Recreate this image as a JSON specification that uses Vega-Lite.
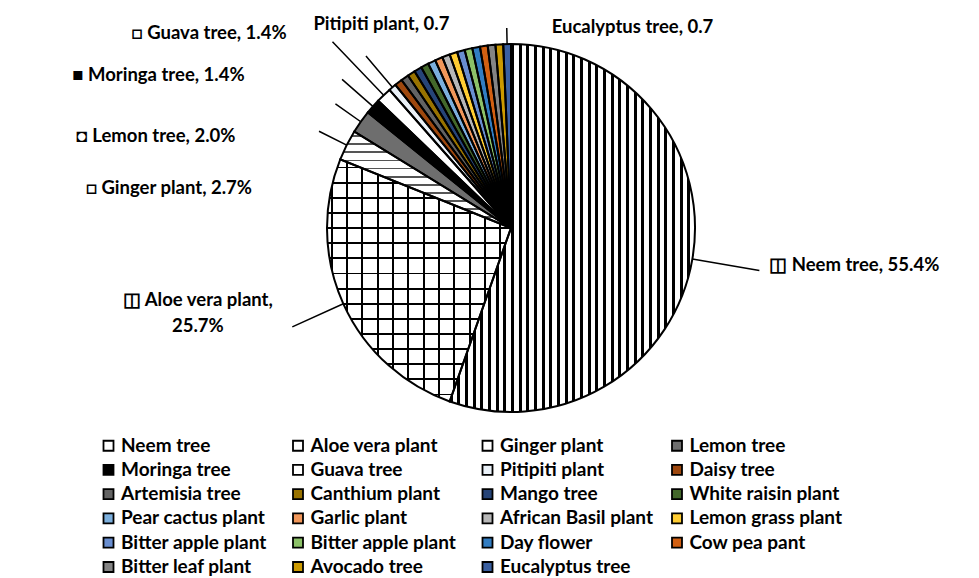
{
  "$schema": "https://vega.github.io/schema/vega-lite/v6.json",
  "autosize": {"type": "none"},
  "width": 1012,
  "height": 444,
  "padding": {"left": 5, "top": 6, "right": 0, "bottom": 140},
  "background": "white",
  "config": {"view": {"stroke": null}, "font": "Lato"},
  "resolve": {"scale": {"theta": "independent"}},
  "data": {
    "values": [
      {"idx": 1, "plant": "Neem tree", "count": 82, "label": "◫ Neem tree, 55.4%"},
      {"idx": 2, "plant": "Aloe vera plant", "count": 38, "label": "◫ Aloe vera plant,\n25.7%"},
      {"idx": 3, "plant": "Ginger plant", "count": 4, "label": "□ Ginger plant, 2.7%"},
      {"idx": 4, "plant": "Lemon tree", "count": 3, "label": "◘ Lemon tree, 2.0%"},
      {"idx": 5, "plant": "Moringa tree", "count": 2, "label": "■ Moringa tree, 1.4%"},
      {"idx": 6, "plant": "Guava tree", "count": 2, "label": "□ Guava tree, 1.4%"},
      {"idx": 7, "plant": "Pitipiti plant", "count": 1, "label": "Pitipiti plant, 0.7"},
      {"idx": 8, "plant": "Daisy tree", "count": 1, "label": ""},
      {"idx": 9, "plant": "Artemisia tree", "count": 1, "label": ""},
      {"idx": 10, "plant": "Canthium plant", "count": 1, "label": ""},
      {"idx": 11, "plant": "Mango tree", "count": 1, "label": ""},
      {"idx": 12, "plant": "White raisin plant", "count": 1, "label": ""},
      {"idx": 13, "plant": "Pear cactus plant", "count": 1, "label": ""},
      {"idx": 14, "plant": "Garlic plant", "count": 1, "label": ""},
      {"idx": 15, "plant": "African Basil plant", "count": 1, "label": ""},
      {"idx": 16, "plant": "Lemon grass plant", "count": 1, "label": ""},
      {"idx": 17, "plant": "Bitter apple plant", "count": 1, "label": ""},
      {"idx": 18, "plant": "Bitter apple plant\u200b", "count": 1, "label": ""},
      {"idx": 19, "plant": "Day flower", "count": 1, "label": ""},
      {"idx": 20, "plant": "Cow pea pant", "count": 1, "label": ""},
      {"idx": 21, "plant": "Bitter leaf plant", "count": 1, "label": ""},
      {"idx": 22, "plant": "Avocado tree", "count": 1, "label": ""},
      {"idx": 23, "plant": "Eucalyptus tree", "count": 1, "label": "Eucalyptus tree, 0.7"}
    ]
  },
  "layer": [
    {
      "mark": {"type": "arc", "radius": 184, "strokeWidth": 0},
      "encoding": {
        "theta": {"field": "count", "type": "quantitative", "stack": true},
        "order": {"field": "idx", "type": "quantitative"},
        "color": {
          "field": "plant", "type": "nominal",
          "scale": {
            "domain": ["Neem tree", "Moringa tree", "Artemisia tree", "Pear cactus plant", "Bitter apple plant", "Bitter leaf plant", "Aloe vera plant", "Guava tree", "Canthium plant", "Garlic plant", "Bitter apple plant\u200b", "Avocado tree", "Ginger plant", "Pitipiti plant", "Mango tree", "African Basil plant", "Day flower", "Eucalyptus tree", "Lemon tree", "Daisy tree", "White raisin plant", "Lemon grass plant", "Cow pea pant"],
            "range": ["#ffffff", "#000000", "#636363", "#7CAFDD", "#698ED0", "#848484", "#ffffff", "#ffffff", "#997300", "#F1975A", "#8CC168", "#CC9A00", "#ffffff", "#eaf1f8", "#264478", "#B7B7B7", "#327DC2", "#3A5FA0", "#6e6e6e", "#9E480E", "#43682B", "#FFCD33", "#D26012"]
          },
          "legend": {
            "orient": "none", "legendX": 94, "legendY": 430, "columns": 4, "title": null,
            "padding": 0, "symbolType": "square", "symbolSize": 100, "gridAlign": "all",
            "symbolStrokeColor": "black", "symbolStrokeWidth": 1.8,
            "labelFont": "Lato", "labelFontSize": 19, "labelFontWeight": "bold", "labelColor": "black",
            "labelLimit": 300, "labelOffset": 3, "rowPadding": 4.3, "columnPadding": 14.5
          }
        }
      }
    },
    {
      "mark": {"type": "arc", "radius": 184, "strokeWidth": 0},
      "encoding": {
        "theta": {"field": "count", "type": "quantitative", "stack": true},
        "order": {"field": "idx", "type": "quantitative"},
        "detail": {"field": "plant", "type": "nominal"},
        "fill": {
          "condition": {
            "test": "datum.plant === 'Neem tree'",
            "value": {
              "gradient": "linear", "x1": 0, "y1": 0, "x2": 1, "y2": 0,
              "stops": [
                {"offset": 0, "color": "#000"}, {"offset": 0.0125, "color": "#000"}, {"offset": 0.0125, "color": "#fff"}, {"offset": 0.03125, "color": "#fff"},
                {"offset": 0.03125, "color": "#000"}, {"offset": 0.04375, "color": "#000"}, {"offset": 0.04375, "color": "#fff"}, {"offset": 0.0625, "color": "#fff"},
                {"offset": 0.0625, "color": "#000"}, {"offset": 0.075, "color": "#000"}, {"offset": 0.075, "color": "#fff"}, {"offset": 0.09375, "color": "#fff"},
                {"offset": 0.09375, "color": "#000"}, {"offset": 0.10625, "color": "#000"}, {"offset": 0.10625, "color": "#fff"}, {"offset": 0.125, "color": "#fff"},
                {"offset": 0.125, "color": "#000"}, {"offset": 0.1375, "color": "#000"}, {"offset": 0.1375, "color": "#fff"}, {"offset": 0.15625, "color": "#fff"},
                {"offset": 0.15625, "color": "#000"}, {"offset": 0.16875, "color": "#000"}, {"offset": 0.16875, "color": "#fff"}, {"offset": 0.1875, "color": "#fff"},
                {"offset": 0.1875, "color": "#000"}, {"offset": 0.2, "color": "#000"}, {"offset": 0.2, "color": "#fff"}, {"offset": 0.21875, "color": "#fff"},
                {"offset": 0.21875, "color": "#000"}, {"offset": 0.23125, "color": "#000"}, {"offset": 0.23125, "color": "#fff"}, {"offset": 0.25, "color": "#fff"},
                {"offset": 0.25, "color": "#000"}, {"offset": 0.2625, "color": "#000"}, {"offset": 0.2625, "color": "#fff"}, {"offset": 0.28125, "color": "#fff"},
                {"offset": 0.28125, "color": "#000"}, {"offset": 0.29375, "color": "#000"}, {"offset": 0.29375, "color": "#fff"}, {"offset": 0.3125, "color": "#fff"},
                {"offset": 0.3125, "color": "#000"}, {"offset": 0.325, "color": "#000"}, {"offset": 0.325, "color": "#fff"}, {"offset": 0.34375, "color": "#fff"},
                {"offset": 0.34375, "color": "#000"}, {"offset": 0.35625, "color": "#000"}, {"offset": 0.35625, "color": "#fff"}, {"offset": 0.375, "color": "#fff"},
                {"offset": 0.375, "color": "#000"}, {"offset": 0.3875, "color": "#000"}, {"offset": 0.3875, "color": "#fff"}, {"offset": 0.40625, "color": "#fff"},
                {"offset": 0.40625, "color": "#000"}, {"offset": 0.41875, "color": "#000"}, {"offset": 0.41875, "color": "#fff"}, {"offset": 0.4375, "color": "#fff"},
                {"offset": 0.4375, "color": "#000"}, {"offset": 0.45, "color": "#000"}, {"offset": 0.45, "color": "#fff"}, {"offset": 0.46875, "color": "#fff"},
                {"offset": 0.46875, "color": "#000"}, {"offset": 0.48125, "color": "#000"}, {"offset": 0.48125, "color": "#fff"}, {"offset": 0.5, "color": "#fff"},
                {"offset": 0.5, "color": "#000"}, {"offset": 0.5125, "color": "#000"}, {"offset": 0.5125, "color": "#fff"}, {"offset": 0.53125, "color": "#fff"},
                {"offset": 0.53125, "color": "#000"}, {"offset": 0.54375, "color": "#000"}, {"offset": 0.54375, "color": "#fff"}, {"offset": 0.5625, "color": "#fff"},
                {"offset": 0.5625, "color": "#000"}, {"offset": 0.575, "color": "#000"}, {"offset": 0.575, "color": "#fff"}, {"offset": 0.59375, "color": "#fff"},
                {"offset": 0.59375, "color": "#000"}, {"offset": 0.60625, "color": "#000"}, {"offset": 0.60625, "color": "#fff"}, {"offset": 0.625, "color": "#fff"},
                {"offset": 0.625, "color": "#000"}, {"offset": 0.6375, "color": "#000"}, {"offset": 0.6375, "color": "#fff"}, {"offset": 0.65625, "color": "#fff"},
                {"offset": 0.65625, "color": "#000"}, {"offset": 0.66875, "color": "#000"}, {"offset": 0.66875, "color": "#fff"}, {"offset": 0.6875, "color": "#fff"},
                {"offset": 0.6875, "color": "#000"}, {"offset": 0.7, "color": "#000"}, {"offset": 0.7, "color": "#fff"}, {"offset": 0.71875, "color": "#fff"},
                {"offset": 0.71875, "color": "#000"}, {"offset": 0.73125, "color": "#000"}, {"offset": 0.73125, "color": "#fff"}, {"offset": 0.75, "color": "#fff"},
                {"offset": 0.75, "color": "#000"}, {"offset": 0.7625, "color": "#000"}, {"offset": 0.7625, "color": "#fff"}, {"offset": 0.78125, "color": "#fff"},
                {"offset": 0.78125, "color": "#000"}, {"offset": 0.79375, "color": "#000"}, {"offset": 0.79375, "color": "#fff"}, {"offset": 0.8125, "color": "#fff"},
                {"offset": 0.8125, "color": "#000"}, {"offset": 0.825, "color": "#000"}, {"offset": 0.825, "color": "#fff"}, {"offset": 0.84375, "color": "#fff"},
                {"offset": 0.84375, "color": "#000"}, {"offset": 0.85625, "color": "#000"}, {"offset": 0.85625, "color": "#fff"}, {"offset": 0.875, "color": "#fff"},
                {"offset": 0.875, "color": "#000"}, {"offset": 0.8875, "color": "#000"}, {"offset": 0.8875, "color": "#fff"}, {"offset": 0.90625, "color": "#fff"},
                {"offset": 0.90625, "color": "#000"}, {"offset": 0.91875, "color": "#000"}, {"offset": 0.91875, "color": "#fff"}, {"offset": 0.9375, "color": "#fff"},
                {"offset": 0.9375, "color": "#000"}, {"offset": 0.95, "color": "#000"}, {"offset": 0.95, "color": "#fff"}, {"offset": 0.96875, "color": "#fff"},
                {"offset": 0.96875, "color": "#000"}, {"offset": 0.98125, "color": "#000"}, {"offset": 0.98125, "color": "#fff"}, {"offset": 1, "color": "#fff"}
              ]
            }
          },
          "value": "transparent"
        }
      }
    },
    {
      "mark": {"type": "arc", "radius": 184, "strokeWidth": 0},
      "encoding": {
        "theta": {"field": "count", "type": "quantitative", "stack": true},
        "order": {"field": "idx", "type": "quantitative"},
        "detail": {"field": "plant", "type": "nominal"},
        "fill": {
          "condition": {
            "test": "datum.plant === 'Aloe vera plant'",
            "value": {
              "gradient": "linear", "x1": 0, "y1": 0, "x2": 1, "y2": 0,
              "stops": [
                {"offset": 0.02, "color": "rgba(0,0,0,0)"}, {"offset": 0.02, "color": "#000"}, {"offset": 0.03, "color": "#000"}, {"offset": 0.03, "color": "rgba(0,0,0,0)"},
                {"offset": 0.10333, "color": "rgba(0,0,0,0)"}, {"offset": 0.10333, "color": "#000"}, {"offset": 0.11333, "color": "#000"}, {"offset": 0.11333, "color": "rgba(0,0,0,0)"},
                {"offset": 0.18667, "color": "rgba(0,0,0,0)"}, {"offset": 0.18667, "color": "#000"}, {"offset": 0.19667, "color": "#000"}, {"offset": 0.19667, "color": "rgba(0,0,0,0)"},
                {"offset": 0.27, "color": "rgba(0,0,0,0)"}, {"offset": 0.27, "color": "#000"}, {"offset": 0.28, "color": "#000"}, {"offset": 0.28, "color": "rgba(0,0,0,0)"},
                {"offset": 0.35333, "color": "rgba(0,0,0,0)"}, {"offset": 0.35333, "color": "#000"}, {"offset": 0.36333, "color": "#000"}, {"offset": 0.36333, "color": "rgba(0,0,0,0)"},
                {"offset": 0.43667, "color": "rgba(0,0,0,0)"}, {"offset": 0.43667, "color": "#000"}, {"offset": 0.44667, "color": "#000"}, {"offset": 0.44667, "color": "rgba(0,0,0,0)"},
                {"offset": 0.52, "color": "rgba(0,0,0,0)"}, {"offset": 0.52, "color": "#000"}, {"offset": 0.53, "color": "#000"}, {"offset": 0.53, "color": "rgba(0,0,0,0)"},
                {"offset": 0.60333, "color": "rgba(0,0,0,0)"}, {"offset": 0.60333, "color": "#000"}, {"offset": 0.61333, "color": "#000"}, {"offset": 0.61333, "color": "rgba(0,0,0,0)"},
                {"offset": 0.68667, "color": "rgba(0,0,0,0)"}, {"offset": 0.68667, "color": "#000"}, {"offset": 0.69667, "color": "#000"}, {"offset": 0.69667, "color": "rgba(0,0,0,0)"},
                {"offset": 0.77, "color": "rgba(0,0,0,0)"}, {"offset": 0.77, "color": "#000"}, {"offset": 0.78, "color": "#000"}, {"offset": 0.78, "color": "rgba(0,0,0,0)"},
                {"offset": 0.85333, "color": "rgba(0,0,0,0)"}, {"offset": 0.85333, "color": "#000"}, {"offset": 0.86333, "color": "#000"}, {"offset": 0.86333, "color": "rgba(0,0,0,0)"},
                {"offset": 0.93667, "color": "rgba(0,0,0,0)"}, {"offset": 0.93667, "color": "#000"}, {"offset": 0.94667, "color": "#000"}, {"offset": 0.94667, "color": "rgba(0,0,0,0)"}
              ]
            }
          },
          "value": "transparent"
        }
      }
    },
    {
      "mark": {"type": "arc", "radius": 184, "strokeWidth": 0},
      "encoding": {
        "theta": {"field": "count", "type": "quantitative", "stack": true},
        "order": {"field": "idx", "type": "quantitative"},
        "detail": {"field": "plant", "type": "nominal"},
        "fill": {
          "condition": {
            "test": "datum.plant === 'Aloe vera plant'",
            "value": {
              "gradient": "linear", "x1": 0, "y1": 0, "x2": 0, "y2": 1,
              "stops": [
                {"offset": 0.03, "color": "rgba(0,0,0,0)"}, {"offset": 0.03, "color": "#000"}, {"offset": 0.0375, "color": "#000"}, {"offset": 0.0375, "color": "rgba(0,0,0,0)"},
                {"offset": 0.0925, "color": "rgba(0,0,0,0)"}, {"offset": 0.0925, "color": "#000"}, {"offset": 0.1, "color": "#000"}, {"offset": 0.1, "color": "rgba(0,0,0,0)"},
                {"offset": 0.155, "color": "rgba(0,0,0,0)"}, {"offset": 0.155, "color": "#000"}, {"offset": 0.1625, "color": "#000"}, {"offset": 0.1625, "color": "rgba(0,0,0,0)"},
                {"offset": 0.2175, "color": "rgba(0,0,0,0)"}, {"offset": 0.2175, "color": "#000"}, {"offset": 0.225, "color": "#000"}, {"offset": 0.225, "color": "rgba(0,0,0,0)"},
                {"offset": 0.28, "color": "rgba(0,0,0,0)"}, {"offset": 0.28, "color": "#000"}, {"offset": 0.2875, "color": "#000"}, {"offset": 0.2875, "color": "rgba(0,0,0,0)"},
                {"offset": 0.3425, "color": "rgba(0,0,0,0)"}, {"offset": 0.3425, "color": "#000"}, {"offset": 0.35, "color": "#000"}, {"offset": 0.35, "color": "rgba(0,0,0,0)"},
                {"offset": 0.405, "color": "rgba(0,0,0,0)"}, {"offset": 0.405, "color": "#000"}, {"offset": 0.4125, "color": "#000"}, {"offset": 0.4125, "color": "rgba(0,0,0,0)"},
                {"offset": 0.4675, "color": "rgba(0,0,0,0)"}, {"offset": 0.4675, "color": "#000"}, {"offset": 0.475, "color": "#000"}, {"offset": 0.475, "color": "rgba(0,0,0,0)"},
                {"offset": 0.53, "color": "rgba(0,0,0,0)"}, {"offset": 0.53, "color": "#000"}, {"offset": 0.5375, "color": "#000"}, {"offset": 0.5375, "color": "rgba(0,0,0,0)"},
                {"offset": 0.5925, "color": "rgba(0,0,0,0)"}, {"offset": 0.5925, "color": "#000"}, {"offset": 0.6, "color": "#000"}, {"offset": 0.6, "color": "rgba(0,0,0,0)"},
                {"offset": 0.655, "color": "rgba(0,0,0,0)"}, {"offset": 0.655, "color": "#000"}, {"offset": 0.6625, "color": "#000"}, {"offset": 0.6625, "color": "rgba(0,0,0,0)"},
                {"offset": 0.7175, "color": "rgba(0,0,0,0)"}, {"offset": 0.7175, "color": "#000"}, {"offset": 0.725, "color": "#000"}, {"offset": 0.725, "color": "rgba(0,0,0,0)"},
                {"offset": 0.78, "color": "rgba(0,0,0,0)"}, {"offset": 0.78, "color": "#000"}, {"offset": 0.7875, "color": "#000"}, {"offset": 0.7875, "color": "rgba(0,0,0,0)"},
                {"offset": 0.8425, "color": "rgba(0,0,0,0)"}, {"offset": 0.8425, "color": "#000"}, {"offset": 0.85, "color": "#000"}, {"offset": 0.85, "color": "rgba(0,0,0,0)"},
                {"offset": 0.905, "color": "rgba(0,0,0,0)"}, {"offset": 0.905, "color": "#000"}, {"offset": 0.9125, "color": "#000"}, {"offset": 0.9125, "color": "rgba(0,0,0,0)"},
                {"offset": 0.9675, "color": "rgba(0,0,0,0)"}, {"offset": 0.9675, "color": "#000"}, {"offset": 0.975, "color": "#000"}, {"offset": 0.975, "color": "rgba(0,0,0,0)"}
              ]
            }
          },
          "value": "transparent"
        }
      }
    },
    {
      "mark": {"type": "arc", "radius": 184, "strokeWidth": 0},
      "encoding": {
        "theta": {"field": "count", "type": "quantitative", "stack": true},
        "order": {"field": "idx", "type": "quantitative"},
        "detail": {"field": "plant", "type": "nominal"},
        "fill": {
          "condition": {
            "test": "datum.plant === 'Ginger plant'",
            "value": {
              "gradient": "linear", "x1": 0, "y1": 0, "x2": 0, "y2": 1,
              "stops": [
                {"offset": 0.04, "color": "rgba(0,0,0,0)"}, {"offset": 0.04, "color": "#555"}, {"offset": 0.06, "color": "#555"}, {"offset": 0.06, "color": "rgba(0,0,0,0)"},
                {"offset": 0.12333, "color": "rgba(0,0,0,0)"}, {"offset": 0.12333, "color": "#555"}, {"offset": 0.14333, "color": "#555"}, {"offset": 0.14333, "color": "rgba(0,0,0,0)"},
                {"offset": 0.20667, "color": "rgba(0,0,0,0)"}, {"offset": 0.20667, "color": "#555"}, {"offset": 0.22667, "color": "#555"}, {"offset": 0.22667, "color": "rgba(0,0,0,0)"},
                {"offset": 0.29, "color": "rgba(0,0,0,0)"}, {"offset": 0.29, "color": "#555"}, {"offset": 0.31, "color": "#555"}, {"offset": 0.31, "color": "rgba(0,0,0,0)"},
                {"offset": 0.37333, "color": "rgba(0,0,0,0)"}, {"offset": 0.37333, "color": "#555"}, {"offset": 0.39333, "color": "#555"}, {"offset": 0.39333, "color": "rgba(0,0,0,0)"},
                {"offset": 0.45667, "color": "rgba(0,0,0,0)"}, {"offset": 0.45667, "color": "#555"}, {"offset": 0.47667, "color": "#555"}, {"offset": 0.47667, "color": "rgba(0,0,0,0)"},
                {"offset": 0.54, "color": "rgba(0,0,0,0)"}, {"offset": 0.54, "color": "#555"}, {"offset": 0.56, "color": "#555"}, {"offset": 0.56, "color": "rgba(0,0,0,0)"},
                {"offset": 0.62333, "color": "rgba(0,0,0,0)"}, {"offset": 0.62333, "color": "#555"}, {"offset": 0.64333, "color": "#555"}, {"offset": 0.64333, "color": "rgba(0,0,0,0)"},
                {"offset": 0.70667, "color": "rgba(0,0,0,0)"}, {"offset": 0.70667, "color": "#555"}, {"offset": 0.72667, "color": "#555"}, {"offset": 0.72667, "color": "rgba(0,0,0,0)"},
                {"offset": 0.79, "color": "rgba(0,0,0,0)"}, {"offset": 0.79, "color": "#555"}, {"offset": 0.81, "color": "#555"}, {"offset": 0.81, "color": "rgba(0,0,0,0)"},
                {"offset": 0.87333, "color": "rgba(0,0,0,0)"}, {"offset": 0.87333, "color": "#555"}, {"offset": 0.89333, "color": "#555"}, {"offset": 0.89333, "color": "rgba(0,0,0,0)"}
              ]
            }
          },
          "value": "transparent"
        }
      }
    },
    {
      "mark": {"type": "arc", "radius": 184, "fill": "transparent", "stroke": "black", "strokeWidth": 2},
      "encoding": {
        "theta": {"field": "count", "type": "quantitative", "stack": true},
        "order": {"field": "idx", "type": "quantitative"},
        "detail": {"field": "plant", "type": "nominal"}
      }
    },
    {
      "mark": {"type": "arc", "radius": 252, "radius2": 184, "padAngle": 1.247, "fill": "transparent", "stroke": "black", "strokeWidth": 1.5},
      "encoding": {
        "theta": {"field": "count", "type": "quantitative", "stack": true, "scale": {"range": [0.9616, 3.7736]}},
        "order": {"field": "idx", "type": "quantitative"},
        "detail": {"field": "plant", "type": "nominal"},
        "strokeOpacity": {"condition": {"test": "datum.plant === 'Neem tree'", "value": 1}, "value": 0}
      }
    },
    {
      "mark": {"type": "arc", "radius": 240, "radius2": 184, "padAngle": 1.293, "fill": "transparent", "stroke": "black", "strokeWidth": 1.5},
      "encoding": {
        "theta": {"field": "count", "type": "quantitative", "stack": true},
        "order": {"field": "idx", "type": "quantitative"},
        "detail": {"field": "plant", "type": "nominal"},
        "strokeOpacity": {"condition": {"test": "datum.plant === 'Aloe vera plant'", "value": 1}, "value": 0}
      }
    },
    {
      "mark": {"type": "arc", "radius": 215, "radius2": 184, "padAngle": 1.3986, "fill": "transparent", "stroke": "black", "strokeWidth": 1.5},
      "encoding": {
        "theta": {"field": "count", "type": "quantitative", "stack": true},
        "order": {"field": "idx", "type": "quantitative"},
        "detail": {"field": "plant", "type": "nominal"},
        "strokeOpacity": {"condition": {"test": "datum.plant === 'Ginger plant' || datum.plant === 'Lemon tree'", "value": 1}, "value": 0}
      }
    },
    {
      "mark": {"type": "arc", "radius": 225, "radius2": 184, "padAngle": 1.355, "fill": "transparent", "stroke": "black", "strokeWidth": 1.5},
      "encoding": {
        "theta": {"field": "count", "type": "quantitative", "stack": true},
        "order": {"field": "idx", "type": "quantitative"},
        "detail": {"field": "plant", "type": "nominal"},
        "strokeOpacity": {"condition": {"test": "datum.plant === 'Moringa tree' || datum.plant === 'Pitipiti plant'", "value": 1}, "value": 0}
      }
    },
    {
      "mark": {"type": "arc", "radius": 258, "radius2": 184, "padAngle": 1.2244, "fill": "transparent", "stroke": "black", "strokeWidth": 1.5},
      "encoding": {
        "theta": {"field": "count", "type": "quantitative", "stack": true},
        "order": {"field": "idx", "type": "quantitative"},
        "detail": {"field": "plant", "type": "nominal"},
        "strokeOpacity": {"condition": {"test": "datum.plant === 'Guava tree'", "value": 1}, "value": 0}
      }
    },
    {
      "mark": {"type": "arc", "radius": 200, "radius2": 184, "padAngle": 1.469, "fill": "transparent", "stroke": "black", "strokeWidth": 1.5},
      "encoding": {
        "theta": {"field": "count", "type": "quantitative", "stack": true},
        "order": {"field": "idx", "type": "quantitative"},
        "detail": {"field": "plant", "type": "nominal"},
        "strokeOpacity": {"condition": {"test": "datum.plant === 'Eucalyptus tree'", "value": 1}, "value": 0}
      }
    },
    {
      "mark": {"type": "text", "radius": 260, "align": "left", "baseline": "middle", "dx": 2, "dy": -7, "font": "Lato", "fontSize": 18.5, "fontWeight": "bold", "color": "black"},
      "encoding": {
        "theta": {"field": "count", "type": "quantitative", "stack": true},
        "order": {"field": "idx", "type": "quantitative"},
        "detail": {"field": "plant", "type": "nominal"},
        "text": {"condition": {"test": "datum.plant === 'Neem tree'", "field": "label"}, "value": ""}
      }
    },
    {
      "mark": {"type": "text", "radius": 280, "align": "center", "baseline": "middle", "dx": -58, "dy": -43, "lineBreak": "\n", "lineHeight": 26, "font": "Lato", "fontSize": 18.5, "fontWeight": "bold", "color": "black"},
      "encoding": {
        "theta": {"field": "count", "type": "quantitative", "stack": true},
        "order": {"field": "idx", "type": "quantitative"},
        "detail": {"field": "plant", "type": "nominal"},
        "text": {"condition": {"test": "datum.plant === 'Aloe vera plant'", "field": "label"}, "value": ""}
      }
    },
    {
      "mark": {"type": "text", "radius": 215, "align": "right", "baseline": "middle", "dx": -67, "dy": 57, "font": "Lato", "fontSize": 18.5, "fontWeight": "bold", "color": "black"},
      "encoding": {
        "theta": {"field": "count", "type": "quantitative", "stack": true},
        "order": {"field": "idx", "type": "quantitative"},
        "detail": {"field": "plant", "type": "nominal"},
        "text": {"condition": {"test": "datum.plant === 'Ginger plant'", "field": "label"}, "value": ""}
      }
    },
    {
      "mark": {"type": "text", "radius": 215, "align": "right", "baseline": "middle", "dx": -100, "dy": 32, "font": "Lato", "fontSize": 18.5, "fontWeight": "bold", "color": "black"},
      "encoding": {
        "theta": {"field": "count", "type": "quantitative", "stack": true},
        "order": {"field": "idx", "type": "quantitative"},
        "detail": {"field": "plant", "type": "nominal"},
        "text": {"condition": {"test": "datum.plant === 'Lemon tree'", "field": "label"}, "value": ""}
      }
    },
    {
      "mark": {"type": "text", "radius": 215, "align": "right", "baseline": "middle", "dx": -105, "dy": -11, "font": "Lato", "fontSize": 18.5, "fontWeight": "bold", "color": "black"},
      "encoding": {
        "theta": {"field": "count", "type": "quantitative", "stack": true},
        "order": {"field": "idx", "type": "quantitative"},
        "detail": {"field": "plant", "type": "nominal"},
        "text": {"condition": {"test": "datum.plant === 'Moringa tree'", "field": "label"}, "value": ""}
      }
    },
    {
      "mark": {"type": "text", "radius": 265, "align": "right", "baseline": "middle", "dx": -41, "dy": -4, "font": "Lato", "fontSize": 18.5, "fontWeight": "bold", "color": "black"},
      "encoding": {
        "theta": {"field": "count", "type": "quantitative", "stack": true},
        "order": {"field": "idx", "type": "quantitative"},
        "detail": {"field": "plant", "type": "nominal"},
        "text": {"condition": {"test": "datum.plant === 'Guava tree'", "field": "label"}, "value": ""}
      }
    },
    {
      "mark": {"type": "text", "radius": 215, "align": "center", "baseline": "middle", "dx": 9, "dy": -40, "font": "Lato", "fontSize": 18.5, "fontWeight": "bold", "color": "black"},
      "encoding": {
        "theta": {"field": "count", "type": "quantitative", "stack": true},
        "order": {"field": "idx", "type": "quantitative"},
        "detail": {"field": "plant", "type": "nominal"},
        "text": {"condition": {"test": "datum.plant === 'Pitipiti plant'", "field": "label"}, "value": ""}
      }
    },
    {
      "mark": {"type": "text", "radius": 205, "align": "left", "baseline": "middle", "dx": 45, "dy": 4, "font": "Lato", "fontSize": 18.5, "fontWeight": "bold", "color": "black"},
      "encoding": {
        "theta": {"field": "count", "type": "quantitative", "stack": true},
        "order": {"field": "idx", "type": "quantitative"},
        "detail": {"field": "plant", "type": "nominal"},
        "text": {"condition": {"test": "datum.plant === 'Eucalyptus tree'", "field": "label"}, "value": ""}
      }
    }
  ]
}
